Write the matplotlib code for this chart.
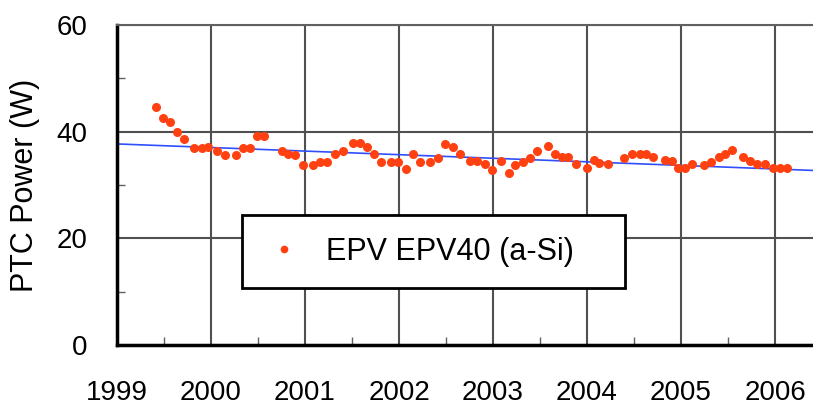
import matplotlib
matplotlib.use("Agg")
import matplotlib.pyplot as plt
from matplotlib.ticker import MultipleLocator

plt.rcParams['font.family'] = ['Liberation Sans', 'DejaVu Sans']

# monthly PTC power readings (decimal year, W)
years = [1999.42, 1999.49, 1999.56, 1999.64, 1999.71, 1999.82, 1999.90, 1999.97,
         2000.06, 2000.15, 2000.27, 2000.34, 2000.41, 2000.49, 2000.56, 2000.75,
         2000.82, 2000.89, 2000.98, 2001.09, 2001.16, 2001.23, 2001.32, 2001.40,
         2001.51, 2001.59, 2001.66, 2001.73, 2001.81, 2001.92, 2001.99, 2002.07,
         2002.15, 2002.22, 2002.33, 2002.41, 2002.49, 2002.57, 2002.65, 2002.76,
         2002.83, 2002.91, 2002.99, 2003.09, 2003.17, 2003.23, 2003.32, 2003.39,
         2003.47, 2003.58, 2003.66, 2003.73, 2003.80, 2003.88, 2004.00, 2004.07,
         2004.13, 2004.22, 2004.39, 2004.48, 2004.56, 2004.63, 2004.70, 2004.83,
         2004.90, 2004.97, 2005.04, 2005.12, 2005.24, 2005.32, 2005.40, 2005.47,
         2005.54, 2005.66, 2005.73, 2005.81, 2005.89, 2005.98, 2006.05, 2006.13]
power = [44.6, 42.5, 41.9, 39.9, 38.6, 37.0, 37.0, 37.1,
         36.4, 35.6, 35.6, 37.0, 37.0, 39.2, 39.2, 36.4,
         35.8, 35.6, 33.8, 33.8, 34.4, 34.4, 35.8, 36.4,
         37.8, 37.8, 37.2, 35.8, 34.4, 34.4, 34.4, 33.0,
         35.8, 34.4, 34.4, 35.1, 37.7, 37.2, 35.8, 34.5,
         34.5, 34.0, 32.9, 34.5, 32.3, 33.8, 34.3, 35.0,
         36.4, 37.3, 35.8, 35.3, 35.3, 33.9, 33.1, 34.7,
         34.1, 33.9, 35.1, 35.8, 35.8, 35.8, 35.2, 34.7,
         34.5, 33.1, 33.1, 33.9, 33.8, 34.4, 35.3, 35.9,
         36.6, 35.3, 34.5, 33.9, 33.9, 33.1, 33.1, 33.1]

# linear trend endpoints
trend_years = [1999.0, 2006.45]
trend_power = [37.7, 32.7]

year_ticks = [1999, 2000, 2001, 2002, 2003, 2004, 2005, 2006]
power_ticks = [0, 20, 40, 60]

fig = plt.figure(figsize=(8.13, 4.07), dpi=100)
ax = fig.add_axes([117 / 813, 62 / 407, 696 / 813, 320 / 407])

ax.plot(trend_years, trend_power, color='#2f4fff', lw=1.2, zorder=2)
ax.plot(years, power, 'o', color='#ff4010', ms=6.5, mew=0, zorder=3,
        label='EPV EPV40 (a-Si)')

ax.set_xlim(1999, 1999 + 696 / 94)
ax.set_ylim(0, 60)
ax.set_xticks(year_ticks)
ax.set_xticklabels([str(y) for y in year_ticks])
ax.set_yticks(power_ticks)
ax.xaxis.set_minor_locator(MultipleLocator(0.5))
ax.yaxis.set_minor_locator(MultipleLocator(10))

ax.grid(True, which='major', color='#505050', lw=1.5, zorder=1)
ax.tick_params(which='major', length=0, labelsize=20)
ax.tick_params(axis='x', which='major', pad=25)
ax.tick_params(axis='y', which='major', pad=21)
ax.tick_params(which='minor', direction='in', length=6, width=1, color='#606060')

ax.spines['right'].set_visible(False)
ax.spines['top'].set_color('#606060')
ax.spines['top'].set_linewidth(1.5)
for s in ('left', 'bottom'):
    ax.spines[s].set_linewidth(2.5)
    ax.spines[s].set_color('black')

ax.set_ylabel('PTC Power (W)', fontsize=22, labelpad=12)

leg = ax.legend(loc='center', bbox_to_anchor=(0.18, 0.178, 0.55, 0.228),
                mode='expand', borderaxespad=0, fontsize=22, frameon=True,
                fancybox=False, borderpad=0.7, handlelength=1.3,
                handletextpad=0.75, markerscale=0.85)
leg.get_frame().set_edgecolor('black')
leg.get_frame().set_linewidth(2)
leg.get_frame().set_alpha(1)

fig.savefig('out.png', dpi=100)
